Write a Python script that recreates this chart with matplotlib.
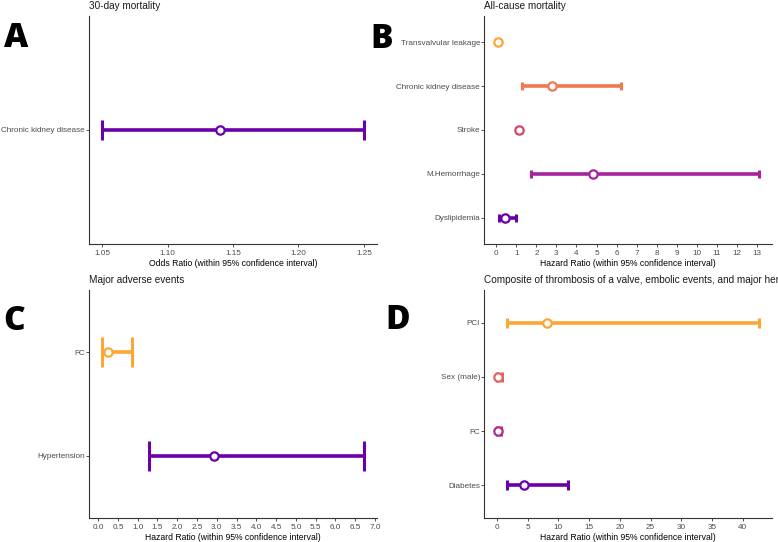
import matplotlib.pyplot as plt

plt.rcParams['font.family'] = ['Liberation Sans', 'DejaVu Sans']

# Panel A - 30-day mortality (odds ratio)
a_labels = ["Chronic kidney disease"]
a_est = [1.14]
a_low = [1.05]
a_high = [1.25]
a_colors = ["#6A00A8"]
a_ticks = [1.05, 1.10, 1.15, 1.20, 1.25]

# Panel B - all-cause mortality (bottom to top)
b_labels = ["Dyslipidemia", "M.Hemorrhage", "Stroke", "Chronic kidney disease", "Transvalvular leakage"]
b_est = [0.45, 4.8, 1.15, 2.8, 0.08]
b_low = [0.15, 1.75, 1.05, 1.3, 0.04]
b_high = [0.97, 13.1, 1.25, 6.2, 0.14]
b_colors = ["#6A00A8", "#A8229F", "#D6456C", "#F0784F", "#FCA636"]
b_ticks = list(range(0, 14))

# Panel C - major adverse events
c_labels = ["Hypertension", "FC"]
c_est = [2.92, 0.25]
c_low = [1.28, 0.1]
c_high = [6.72, 0.86]
c_colors = ["#6A00A8", "#FCA636"]
c_ticks = [i * 0.5 for i in range(15)]

# Panel D - composite endpoint
d_labels = ["Diabetes", "FC", "Sex (male)", "PCI"]
d_est = [4.4, 0.12, 0.15, 8.1]
d_low = [1.7, 0.03, 0.05, 1.6]
d_high = [11.5, 0.6, 0.75, 42.6]
d_colors = ["#6A00A8", "#B12A90", "#E16462", "#FCA636"]
d_ticks = list(range(0, 45, 5))

fig = plt.figure(figsize=(7.78, 5.42), dpi=100)

W, H = 778.0, 542.0
def box(l, t, r, b):
    return [l / W, (H - b) / H, (r - l) / W, (b - t) / H]

panels = [
    (box(89, 16, 377, 244), "30-day mortality", "Odds Ratio (within 95% confidence interval)",
     a_labels, a_est, a_low, a_high, a_colors, a_ticks, "{:.2f}", 7.2, "A", (16, 38)),
    (box(484, 16, 772, 244), "All-cause mortality", "Hazard Ratio (within 95% confidence interval)",
     b_labels, b_est, b_low, b_high, b_colors, b_ticks, "{:d}", 2.9, "B", (382, 39)),
    (box(89, 290, 377, 518), "Major adverse events", "Hazard Ratio (within 95% confidence interval)",
     c_labels, c_est, c_low, c_high, c_colors, c_ticks, "{:.1f}", 11, "C", (14.5, 321)),
    (box(484, 290, 772, 518), "Composite of thrombosis of a valve, embolic events, and major hemorrhage",
     "Hazard Ratio (within 95% confidence interval)",
     d_labels, d_est, d_low, d_high, d_colors, d_ticks, "{:d}", 3.6, "D", (398, 320)),
]

for rect, title, xlabel, labels, est, low, high, colors, ticks, fmt, cap, letter, lpos in panels:
    ax = fig.add_axes(rect)
    for i in range(len(labels)):
        y = i + 1
        ax.errorbar([est[i]], [y], xerr=[[est[i] - low[i]], [high[i] - est[i]]], fmt='none',
                    ecolor=colors[i], elinewidth=2.6, capsize=cap, capthick=2.2, zorder=2)
        ax.plot([est[i]], [y], 'o', markersize=6, markerfacecolor='white',
                markeredgecolor=colors[i], markeredgewidth=1.6, zorder=3)
    n = len(labels)
    ax.set_ylim(0.4, n + 0.6)
    ax.set_yticks(range(1, n + 1))
    ax.set_yticklabels(labels)
    lo, hi = min(low), max(high)
    pad = (hi - lo) * 0.05
    ax.set_xlim(lo - pad, hi + pad)
    ax.set_xticks(ticks)
    ax.set_xticklabels([fmt.format(t) for t in ticks])
    ax.tick_params(labelsize=5.9, colors='#333333', labelcolor='#4D4D4D', length=2.2, width=0.6, pad=1.8)
    ax.tick_params(axis='y', pad=0.6)
    for s in ['top', 'right']:
        ax.spines[s].set_visible(False)
    for s in ['left', 'bottom']:
        ax.spines[s].set_color('#333333')
        ax.spines[s].set_linewidth(0.8)
    ax.set_xlabel(xlabel, fontsize=6.2, color='black', labelpad=1.5)
    ax.set_title(title, loc='left', fontsize=7.2, color='#1a1a1a', pad=5)
    fig.text(lpos[0] / W, 1 - lpos[1] / H, letter, fontsize=24, fontweight='heavy',
             family=['Open Sans', 'DejaVu Sans'], ha='center', va='center', color='black')

fig.savefig("out.png", dpi=100)
